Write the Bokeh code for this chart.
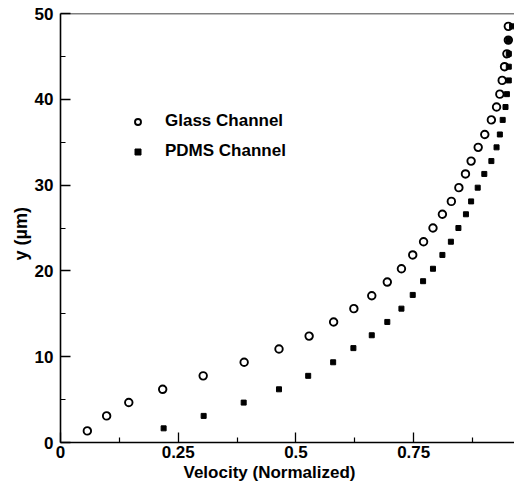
from bokeh.plotting import figure
from bokeh.models import Legend, LegendItem, Span, FixedTicker, Title
from bokeh.embed import file_html
from bokeh.resources import INLINE

# Data
glass_x = [0.057, 0.098, 0.145, 0.217, 0.303, 0.390, 0.464, 0.528, 0.580, 0.623,
           0.661, 0.694, 0.724, 0.748, 0.771, 0.791, 0.811, 0.830, 0.846, 0.860,
           0.872, 0.887, 0.901, 0.915, 0.926, 0.933, 0.938, 0.943, 0.948, 0.951, 0.951]
glass_y = [1.35, 3.1, 4.66, 6.2, 7.77, 9.35, 10.9, 12.4, 14.05, 15.6,
           17.1, 18.7, 20.25, 21.86, 23.4, 25.0, 26.6, 28.1, 29.7, 31.3,
           32.8, 34.4, 35.9, 37.6, 39.1, 40.6, 42.2, 43.8, 45.3, 46.9, 48.5]
pdms_x = [0.219, 0.304, 0.389, 0.464, 0.526, 0.579, 0.622, 0.661, 0.694, 0.724,
          0.748, 0.770, 0.791, 0.811, 0.829, 0.845, 0.861, 0.872, 0.886, 0.900,
          0.915, 0.926, 0.933, 0.939, 0.945, 0.948, 0.952, 0.952, 0.952, 0.951, 0.959]
pdms_y = [1.65, 3.1, 4.65, 6.2, 7.77, 9.35, 11.0, 12.5, 14.05, 15.6,
          17.2, 18.8, 20.25, 21.86, 23.4, 25.0, 26.6, 28.1, 29.7, 31.3,
          32.8, 34.4, 35.9, 37.6, 39.1, 40.6, 42.2, 43.8, 45.3, 46.9, 48.5]

x_ticks = [0, 0.25, 0.5, 0.75, 1.0]
x_tick_labels = {0: "0", 0.25: "0.25", 0.5: "0.5", 0.75: "0.75", 1.0: "1"}
y_ticks = [0, 10, 20, 30, 40, 50]
series_names = ["Glass Channel", "PDMS Channel"]
x_title = "Velocity (Normalized)"
y_title = "y (\u00b5m)"

FONT = "Liberation Sans"

p = figure(width=514, height=481, output_backend="svg", toolbar_location=None,
           x_range=(0, (514 - 60) / 470.9), y_range=(0, 50),
           min_border_left=60, min_border_top=13, min_border_right=0, min_border_bottom=35)
p.outline_line_color = None
p.grid.visible = False
p.background_fill_color = "white"
p.border_fill_color = "white"

for ax in (p.xaxis[0], p.yaxis[0]):
    ax.axis_line_width = 1.6
    ax.axis_line_color = "black"
    ax.major_tick_in = 10
    ax.major_tick_out = 0
    ax.minor_tick_in = 5
    ax.minor_tick_out = 0
    ax.major_tick_line_width = 1.3
    ax.minor_tick_line_width = 1.2
    ax.major_label_text_font = FONT
    ax.major_label_text_font_style = "bold"
    ax.major_label_text_font_size = "17px"
    ax.major_label_text_color = "black"

p.xaxis.ticker = FixedTicker(ticks=x_ticks, minor_ticks=[0.125, 0.375, 0.625, 0.875])
p.xaxis.major_label_overrides = x_tick_labels
p.xaxis.major_label_standoff = 3
p.yaxis.ticker = FixedTicker(ticks=y_ticks, minor_ticks=[5, 15, 25, 35, 45])
p.yaxis.major_label_standoff = 7

p.add_layout(Span(location=50, dimension="width", line_color="black", line_width=1.6))

r1 = p.scatter(glass_x, glass_y, marker="circle", size=7.5, fill_color="white",
               line_color="black", line_width=1.9)
r2 = p.scatter(pdms_x, pdms_y, marker="square", size=5, fill_color="black",
               line_color="black")

legend = Legend(items=[LegendItem(label=series_names[0], renderers=[r1]),
                       LegendItem(label=series_names[1], renderers=[r2])],
                location=(70, 281), padding=0, margin=0, spacing=10,
                glyph_width=15, glyph_height=15, label_height=20, label_standoff=20,
                border_line_alpha=0, background_fill_alpha=0,
                label_text_font=FONT, label_text_font_style="bold",
                label_text_font_size="17px", label_text_color="black")
p.add_layout(legend)

p.add_layout(Title(text=x_title, align="left", offset=123, standoff=0,
                   text_font=FONT, text_font_style="bold", text_font_size="17px",
                   text_color="black"), "below")
p.add_layout(Title(text=y_title, align="left", offset=182, standoff=2,
                   text_font=FONT, text_font_style="bold", text_font_size="18px",
                   text_color="black"), "left")

open("out.html", "w").write(file_html(p, INLINE))
